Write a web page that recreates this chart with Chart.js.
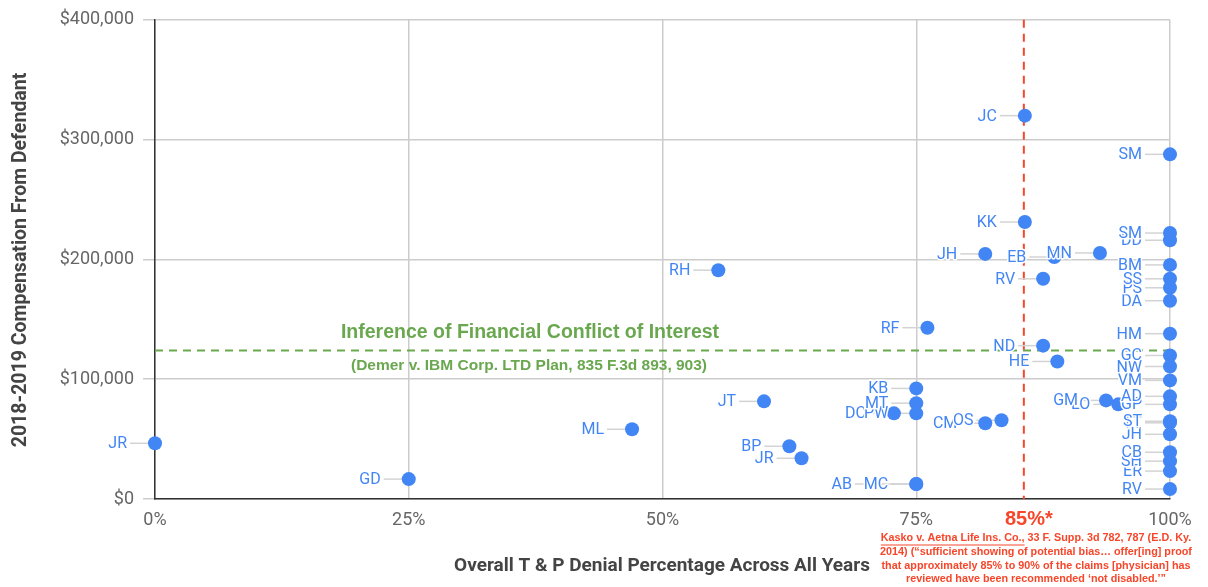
<!DOCTYPE html>
<html>
<head>
<meta charset="utf-8">
<script src="https://cdn.jsdelivr.net/npm/chart.js@4/dist/chart.umd.min.js"></script>
<style>
  html, body { margin: 0; padding: 0; background: #fff; }
  #wrap { width: 1208px; height: 587px; }
</style>
</head>
<body>
<div id="wrap"><canvas id="scatterChart"></canvas></div>
<script>
// reviewer initials, denial percentage, compensation
const names = ["JR", "GD", "ML", "RH", "JT", "BP", "JR", "MC", "AB", "KB", "MT", "DC", "PW",
  "RF", "CM", "OS", "JH", "JC", "KK", "EB", "RV", "MN", "ND", "HE", "GM", "LO",
  "SM", "SM", "DD", "BM", "SS", "PS", "DA", "HM", "GC", "NW", "VM", "AD", "GP",
  "ST", "TT", "JH", "CB", "SH", "ER", "RV"];
const denialPct = [0, 25, 47, 55.5, 60, 62.5, 63.7, 75, 75, 75, 75, 72.8, 75,
  76.1, 81.8, 83.4, 81.8, 85.7, 85.7, 88.6, 87.5, 93.1, 87.5, 88.9, 93.7, 94.9,
  100, 100, 100, 100, 100, 100, 100, 100, 100, 100, 100, 100, 100,
  100, 100, 100, 100, 100, 100, 100];
const compensation = [46500, 16600, 58200, 191000, 81500, 44000, 34000, 12500, 12500, 92300, 80000, 71500, 71500,
  143000, 63200, 65700, 204600, 320000, 231200, 202000, 183800, 205400, 128000, 114800, 82300, 79000,
  287700, 222000, 216000, 195400, 183800, 176300, 165500, 138000, 119800, 110600, 99000, 85700, 79000,
  64900, 63600, 54000, 39000, 31600, 23300, 8300];

const xTicks = [0, 25, 50, 75, 100];
const yTicks = [0, 100000, 200000, 300000, 400000];

const kaskoPct = 85.6;       // red reference line
const demerAmount = 124000;  // green reference line

const blue = "#4285f4";
const red = "#f7462a";
const green = "#6aa84f";

const labelFont = "16px Roboto";

// label positions: left of each point, with a short leader line
let labelBoxes = [];
const placeLabels = (chart) => {
  const ctx = chart.ctx;
  ctx.save();
  ctx.font = labelFont;
  const pts = chart.getDatasetMeta(0).data;
  const placed = [];
  labelBoxes = pts.map((p, i) => {
    const w = ctx.measureText(names[i]).width;
    let right = p.x - 28;
    // two labels on the very same point: push the later one further left
    placed.forEach((q) => {
      if (Math.abs(q.y - p.y) < 1 && Math.abs(q.x - p.x) < 1 && right > q.left - 6) {
        right = q.left - 12;
      }
    });
    const box = { i: i, x: p.x, y: p.y, left: right - w, right: right };
    placed.push(box);
    return box;
  });
  ctx.restore();
};

const overlayPlugin = {
  id: "overlay",
  beforeDatasetsDraw(chart) {
    const ctx = chart.ctx;
    const area = chart.chartArea;
    const xs = chart.scales.x;
    const ys = chart.scales.y;
    placeLabels(chart);

    ctx.save();
    // green dashed line
    ctx.setLineDash([8, 6]);
    ctx.lineWidth = 2;
    ctx.strokeStyle = green;
    const gy = ys.getPixelForValue(demerAmount);
    ctx.beginPath();
    ctx.moveTo(area.left, gy);
    ctx.lineTo(area.right, gy);
    ctx.stroke();
    // red dashed line
    ctx.strokeStyle = red;
    const rx = xs.getPixelForValue(kaskoPct);
    ctx.beginPath();
    ctx.moveTo(rx, area.top);
    ctx.lineTo(rx, area.bottom);
    ctx.stroke();
    ctx.setLineDash([]);

    // leader lines
    ctx.strokeStyle = "#d3d3d3";
    ctx.lineWidth = 1.5;
    labelBoxes.forEach((b) => {
      ctx.beginPath();
      ctx.moveTo(b.right + 3, b.y);
      ctx.lineTo(b.x, b.y);
      ctx.stroke();
    });
    ctx.restore();
  },
  afterDatasetsDraw(chart) {
    const ctx = chart.ctx;
    const xs = chart.scales.x;
    ctx.save();

    // point labels, lower ones first
    ctx.font = labelFont;
    ctx.textAlign = "right";
    ctx.textBaseline = "middle";
    ctx.lineJoin = "round";
    labelBoxes.slice().sort((a, b) => b.y - a.y).forEach((b) => {
      ctx.strokeStyle = "#fff";
      ctx.lineWidth = 3;
      ctx.strokeText(names[b.i], b.right, b.y + 1);
      ctx.fillStyle = blue;
      ctx.fillText(names[b.i], b.right, b.y + 1);
    });

    // green annotation
    ctx.textAlign = "center";
    ctx.fillStyle = green;
    ctx.font = "bold 19.5px 'Liberation Sans', Arial";
    ctx.fillText("Inference of Financial Conflict of Interest", 530, 333);
    ctx.font = "bold 15.5px 'Liberation Sans', Arial";
    ctx.fillText("(Demer v. IBM Corp. LTD Plan, 835 F.3d 893, 903)", 529, 366);

    // red annotation below the axis
    const rx = xs.getPixelForValue(kaskoPct);
    ctx.fillStyle = red;
    ctx.font = "bold 20px 'Liberation Sans', Arial";
    ctx.fillText("85%*", rx + 5, 519);

    const noteLines = [
      "Kasko v. Aetna Life Ins. Co., 33 F. Supp. 3d 782, 787 (E.D. Ky.",
      "2014) (\u201csufficient showing of potential bias\u2026 offer[ing] proof",
      "that approximately 85% to 90% of the claims [physician] has",
      "reviewed have been recommended \u2018not disabled.\u2019\u201d"
    ];
    ctx.font = "bold 10.8px 'Liberation Sans', Arial";
    const noteX = 1036;
    noteLines.forEach((line, k) => {
      ctx.fillText(line, noteX, 538 + k * 13.8);
    });
    // underline the case name
    const full = ctx.measureText(noteLines[0]).width;
    const caseW = ctx.measureText("Kasko v. Aetna Life Ins. Co.,").width;
    const startX = noteX - full / 2;
    ctx.strokeStyle = red;
    ctx.lineWidth = 1;
    ctx.beginPath();
    ctx.moveTo(startX, 545);
    ctx.lineTo(startX + caseW, 545);
    ctx.stroke();

    // axis titles
    ctx.fillStyle = "#444";
    ctx.font = "bold 19px Roboto";
    ctx.fillText("Overall T & P Denial Percentage Across All Years", 662, 566);
    ctx.save();
    ctx.translate(21, 260);
    ctx.rotate(-Math.PI / 2);
    ctx.font = "bold 19.5px Roboto";
    ctx.fillText("2018-2019 Compensation From Defendant", 0, 0);
    ctx.restore();

    ctx.restore();
  }
};

new Chart(document.getElementById("scatterChart").getContext("2d"), {
  type: "scatter",
  data: {
    datasets: [{
      data: denialPct.map((v, i) => ({ x: v, y: compensation[i] })),
      pointRadius: 7,
      pointHoverRadius: 7,
      pointBackgroundColor: blue,
      pointBorderWidth: 0,
      clip: false
    }]
  },
  options: {
    responsive: true,
    maintainAspectRatio: false,
    animation: false,
    events: [],
    layout: { padding: { top: 15, right: 38, bottom: 0, left: 0 } },
    plugins: {
      legend: { display: false },
      tooltip: { enabled: false }
    },
    scales: {
      x: {
        type: "linear",
        min: 0,
        max: 100,
        afterFit: (s) => { s.height = 88; },
        afterBuildTicks: (s) => { s.ticks = xTicks.map((v) => ({ value: v })); },
        ticks: {
          padding: 11,
          color: "#666",
          font: { family: "Roboto", size: 18 },
          callback: (v) => v + "%"
        },
        grid: { color: "#cccccc", lineWidth: 1.5, drawTicks: false },
        border: { color: "#333", width: 1.5 }
      },
      y: {
        min: 0,
        max: 400000,
        afterFit: (s) => { s.width = 155; },
        afterBuildTicks: (s) => { s.ticks = yTicks.map((v) => ({ value: v })); },
        ticks: {
          padding: 9,
          color: "#666",
          font: { family: "Roboto", size: 18 },
          callback: (v) => "$" + v.toLocaleString("en-US")
        },
        grid: { color: "#cccccc", lineWidth: 1.5, tickLength: 12 },
        border: { color: "#333", width: 1.5 }
      }
    }
  },
  plugins: [overlayPlugin]
});
</script>
</body>
</html>
